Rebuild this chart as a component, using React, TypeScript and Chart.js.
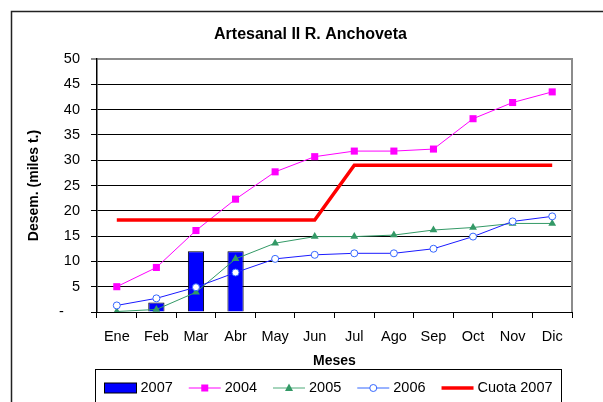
import React, { useEffect, useRef } from 'react';
import { Chart, registerables } from 'chart.js';
Chart.register(...registerables);

const months = ['Ene', 'Feb', 'Mar', 'Abr', 'May', 'Jun', 'Jul', 'Ago', 'Sep', 'Oct', 'Nov', 'Dic'];
const data2007 = [null, 1.9, 12.0, 12.0, null, null, null, null, null, null, null, null];
const data2004 = [5.0, 8.8, 16.1, 22.3, 27.7, 30.7, 31.8, 31.8, 32.2, 38.2, 41.4, 43.5];
const data2005 = [0.1, 0.5, 3.9, 10.5, 13.6, 14.9, 14.9, 15.2, 16.2, 16.7, 17.5, 17.5];
const data2006 = [1.3, 2.7, 4.9, 7.8, 10.5, 11.3, 11.6, 11.6, 12.5, 14.9, 17.9, 18.9];
const cuota2007 = [18.2, 18.2, 18.2, 18.2, 18.2, 18.2, 29.0, 29.0, 29.0, 29.0, 29.0, 29.0];
const seriesNames = ['2007', '2004', '2005', '2006', 'Cuota 2007'];
const titleText = 'Artesanal II R. Anchoveta';
const yTitle = 'Desem. (miles t.)';
const xTitle = 'Meses';

const FONT = '"Liberation Sans", Arial, sans-serif';

const C2007 = '#0000FF';
const C2004 = '#FF00FF';
const C2005 = '#339966';
const C2006L = '#1a1aff';
const C2006M = '#3366FF';
const CCUOTA = '#FF0000';

const decor = {
  id: 'decor',
  beforeDatasetsDraw(chart: any) {
    const { ctx, chartArea: a } = chart;
    ctx.save();
    ctx.strokeStyle = '#8c8c8c';
    ctx.lineWidth = 2;
    ctx.beginPath();
    ctx.moveTo(a.right, a.top - 1);
    ctx.lineTo(a.right, a.bottom);
    ctx.stroke();
    ctx.restore();
  },
  afterDraw(chart: any) {
    const { ctx } = chart;
    ctx.save();
    // outer frame
    ctx.strokeStyle = '#222';
    ctx.lineWidth = 1.5;
    ctx.strokeRect(11.5, 11.5, 700, 500);
    // title
    ctx.fillStyle = '#000';
    ctx.font = `bold 16px ${FONT}`;
    ctx.textAlign = 'center';
    ctx.textBaseline = 'middle';
    ctx.fillText(titleText, 310.5, 35);
    // legend box
    ctx.strokeStyle = '#000';
    ctx.lineWidth = 1;
    ctx.strokeRect(95.5, 369.5, 466, 60);
    ctx.font = `14.5px ${FONT}`;
    ctx.textAlign = 'left';
    const cy = 388;
    let x = 104.5;
    const sw = 32;
    seriesNames.forEach((name, i) => {
      if (i === 0) {
        ctx.fillStyle = C2007;
        ctx.fillRect(x, cy - 5, sw, 10);
        ctx.strokeStyle = '#000';
        ctx.lineWidth = 1;
        ctx.strokeRect(x, cy - 5, sw, 10);
      } else {
        const col = i === 1 ? C2004 : i === 2 ? '#4daa78' : i === 3 ? C2006M : CCUOTA;
        ctx.strokeStyle = col;
        ctx.lineWidth = i === 4 ? 3.5 : 1;
        ctx.beginPath();
        ctx.moveTo(x, cy);
        ctx.lineTo(x + sw, cy);
        ctx.stroke();
        const mx = x + sw / 2;
        if (i === 1) {
          ctx.fillStyle = C2004;
          ctx.fillRect(mx - 3.5, cy - 3.5, 7, 7);
        } else if (i === 2) {
          ctx.fillStyle = C2005;
          ctx.beginPath();
          ctx.moveTo(mx, cy - 4.5);
          ctx.lineTo(mx + 4, cy + 3);
          ctx.lineTo(mx - 4, cy + 3);
          ctx.closePath();
          ctx.fill();
        } else if (i === 3) {
          ctx.fillStyle = '#fff';
          ctx.beginPath();
          ctx.arc(mx, cy, 3.5, 0, Math.PI * 2);
          ctx.fill();
          ctx.stroke();
        }
      }
      x += sw + 4;
      ctx.fillStyle = '#000';
      ctx.fillText(name, x, cy);
      x += ctx.measureText(name).width + 16;
    });
    ctx.restore();
  },
};

export default function App() {
  const ref = useRef<HTMLCanvasElement>(null);
  useEffect(() => {
    const chart = new Chart(ref.current as HTMLCanvasElement, {
      type: 'bar',
      data: {
        labels: months,
        datasets: [
          {
            type: 'bar',
            label: seriesNames[0],
            data: data2007 as any,
            backgroundColor: C2007,
            borderColor: '#000',
            borderWidth: 1,
            barPercentage: 0.41,
            categoryPercentage: 1,
            order: 10,
          },
          {
            type: 'line',
            label: seriesNames[1],
            data: data2004,
            borderColor: C2004,
            borderWidth: 1,
            backgroundColor: C2004,
            pointStyle: 'rect',
            pointRadius: 5,
            pointBorderWidth: 0,
            pointBackgroundColor: C2004,
            order: 4,
          },
          {
            type: 'line',
            label: seriesNames[2],
            data: data2005,
            borderColor: C2005,
            borderWidth: 1,
            backgroundColor: C2005,
            pointStyle: 'triangle',
            pointRadius: 4.5,
            pointBorderWidth: 0,
            pointBackgroundColor: C2005,
            order: 3,
          },
          {
            type: 'line',
            label: seriesNames[3],
            data: data2006,
            borderColor: C2006L,
            borderWidth: 1,
            pointStyle: 'circle',
            pointRadius: 3.5,
            pointBorderWidth: 1,
            pointBorderColor: C2006M,
            pointBackgroundColor: '#fff',
            order: 2,
          },
          {
            type: 'line',
            label: seriesNames[4],
            data: cuota2007,
            borderColor: CCUOTA,
            borderWidth: 3.5,
            pointRadius: 0,
            order: 1,
          },
        ],
      },
      options: {
        animation: false,
        responsive: false,
        devicePixelRatio: 1,
        layout: { padding: { left: 10, right: 31, top: 59, bottom: 30 } },
        plugins: {
          legend: { display: false },
          title: { display: false },
          tooltip: { enabled: false },
        },
        scales: {
          x: {
            offset: true,
            afterFit: (s: any) => { s.height = 60; },
            grid: { offset: true, drawOnChartArea: false, drawTicks: true, tickLength: 6, color: '#000' },
            border: { color: '#000', width: 1 },
            ticks: { color: '#000', font: { family: FONT, size: 14.5 }, padding: 10, maxRotation: 0 },
            title: { display: true, text: xTitle, color: '#000', font: { family: FONT, size: 14, weight: 'bold' }, padding: { top: 2, bottom: 2 } },
          },
          y: {
            min: 0,
            max: 50,
            afterFit: (s: any) => { s.width = 87; },
            grid: {
              color: (c: any) => (c.tick && c.tick.value === 50 ? '#8c8c8c' : '#000'),
              lineWidth: (c: any) => (c.tick && c.tick.value === 50 ? 2 : 1),
              tickLength: 6,
            },
            border: { color: '#000', width: 1.5 },
            ticks: {
              stepSize: 5,
              color: '#000',
              font: { family: FONT, size: 14.5 },
              padding: 11,
              callback: (v: any) => (v === 0 ? '-    ' : String(v)),
            },
            title: { display: true, text: yTitle, color: '#000', font: { family: FONT, size: 14, weight: 'bold' }, padding: { top: 16, bottom: 4 } },
          },
        },
      },
      plugins: [decor],
    } as any);
    return () => chart.destroy();
  }, []);
  return (
    <div style={{ position: 'fixed', left: 0, top: 0, width: 603, height: 402, background: '#fff' }}>
      <canvas ref={ref} width={603} height={402} style={{ display: 'block', width: 603, height: 402 }} />
    </div>
  );
}
